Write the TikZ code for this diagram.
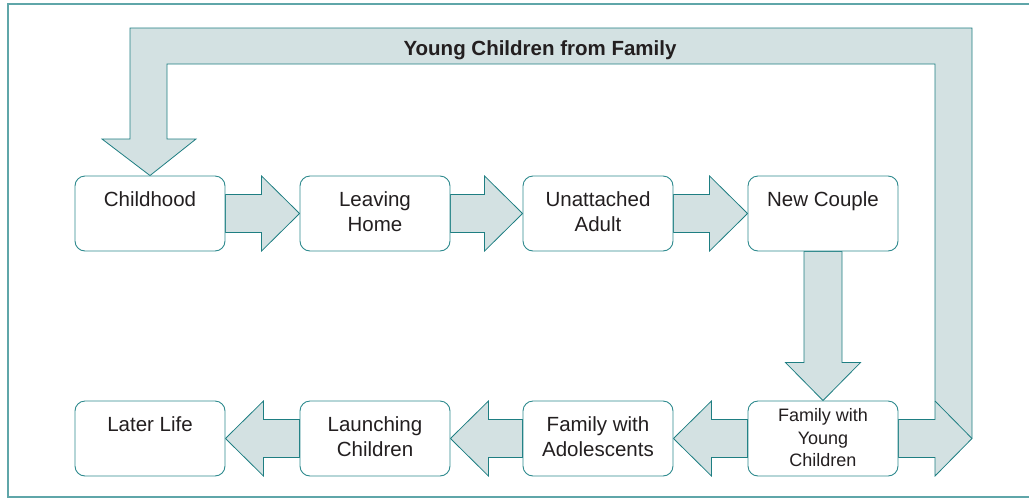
\documentclass[tikz,border=0pt]{standalone}
\usepackage{fontspec}
\setmainfont{Liberation Sans}
\usetikzlibrary{calc}
\pgfdeclarelayer{bg}
\pgfsetlayers{bg,main}
\definecolor{tealline}{HTML}{1E7E82}
\definecolor{boxline}{HTML}{2E8A8E}
\definecolor{framec}{HTML}{5FA6A9}
\definecolor{afill}{HTML}{D3E1E2}
\definecolor{txt}{HTML}{231F20}
\newcommand\blockright[2]{%
  \path[blk] ($(#1.east)+(0,-19)$) -- ($(#2.west)+(-38,-19)$) -- ($(#2.west)+(-38,-37.5)$) -- (#2.west)
    -- ($(#2.west)+(-38,37.5)$) -- ($(#2.west)+(-38,19)$) -- ($(#1.east)+(0,19)$) -- cycle;}
\newcommand\blockleft[2]{%
  \path[blk] ($(#1.west)+(0,-19)$) -- ($(#2.east)+(38,-19)$) -- ($(#2.east)+(38,-37.5)$) -- (#2.east)
    -- ($(#2.east)+(38,37.5)$) -- ($(#2.east)+(38,19)$) -- ($(#1.west)+(0,19)$) -- cycle;}
\begin{document}
\begin{tikzpicture}[x=1pt,y=-1pt,
  stage/.style={draw=boxline, line width=0.9pt, rounded corners=10pt, fill=white,
    minimum width=150pt, minimum height=75pt, inner sep=0pt},
  lbl/.style={text=txt, font=\fontsize{20.5}{25}\selectfont, align=center, inner sep=0pt,
    anchor=north, yshift=-16pt},
  lblsmall/.style={text=txt, font=\fontsize{18}{22.5}\selectfont, align=center, inner sep=0pt,
    anchor=north, yshift=-8pt},
  blk/.style={fill=afill, draw=tealline, line width=0.8pt, line join=miter}]
\useasboundingbox (0,0) rectangle (1029,499);
\draw[framec, line width=1.5pt] (8,4) rectangle (1045,497);

% stages
\node[stage, label={[lbl]north:Childhood}] (ch) at (150,213.5) {};
\node[stage, label={[lbl]north:{Leaving\\Home}}] (lh) at (375,213.5) {};
\node[stage, label={[lbl]north:{Unattached\\Adult}}] (ua) at (598,213.5) {};
\node[stage, label={[lbl]north:{New Couple}}] (nc) at (823,213.5) {};
\node[stage, label={[lblsmall]north:{Family with\\Young\\Children}}] (fy) at (823,438.5) {};
\node[stage, label={[lbl]north:{Family with\\Adolescents}}] (fa) at (598,438.5) {};
\node[stage, label={[lbl]north:{Launching\\Children}}] (lc) at (375,438.5) {};
\node[stage, label={[lbl]north:{Later Life}}] (ll) at (150,438.5) {};

\begin{pgfonlayer}{bg}
  \blockright{ch}{lh}
  \blockright{lh}{ua}
  \blockright{ua}{nc}
  \blockleft{fy}{fa}
  \blockleft{fa}{lc}
  \blockleft{lc}{ll}
  % down arrow
  \path[blk] ($(nc.south)+(-19,0)$) -- ($(fy.north)+(-19,-38)$) -- ($(fy.north)+(-37.5,-38)$) -- (fy.north)
    -- ($(fy.north)+(37.5,-38)$) -- ($(fy.north)+(19,-38)$) -- ($(nc.south)+(19,0)$) -- cycle;
  % loop arrow
  \coordinate (tipR) at (972,438.5);
  \path[blk] ($(fy.east)+(0,-19)$) -- (935,419.5) -- (935,64) -- (167,64) -- (167,139) -- (196,139)
    -- (ch.north) -- (102,139) -- (130,139) -- (130,28) -- (972,28) -- (tipR)
    -- (935,476) -- (935,457.5) -- ($(fy.east)+(0,19)$) -- cycle;
  \draw[tealline, line width=0.8pt] (935,401) -- (tipR);
\end{pgfonlayer}

\node[text=txt, font=\fontsize{20.5}{25}\selectfont\bfseries, anchor=base, inner sep=0pt] (title) at (540,55.7) {Young Children from Family};
\end{tikzpicture}
\end{document}
